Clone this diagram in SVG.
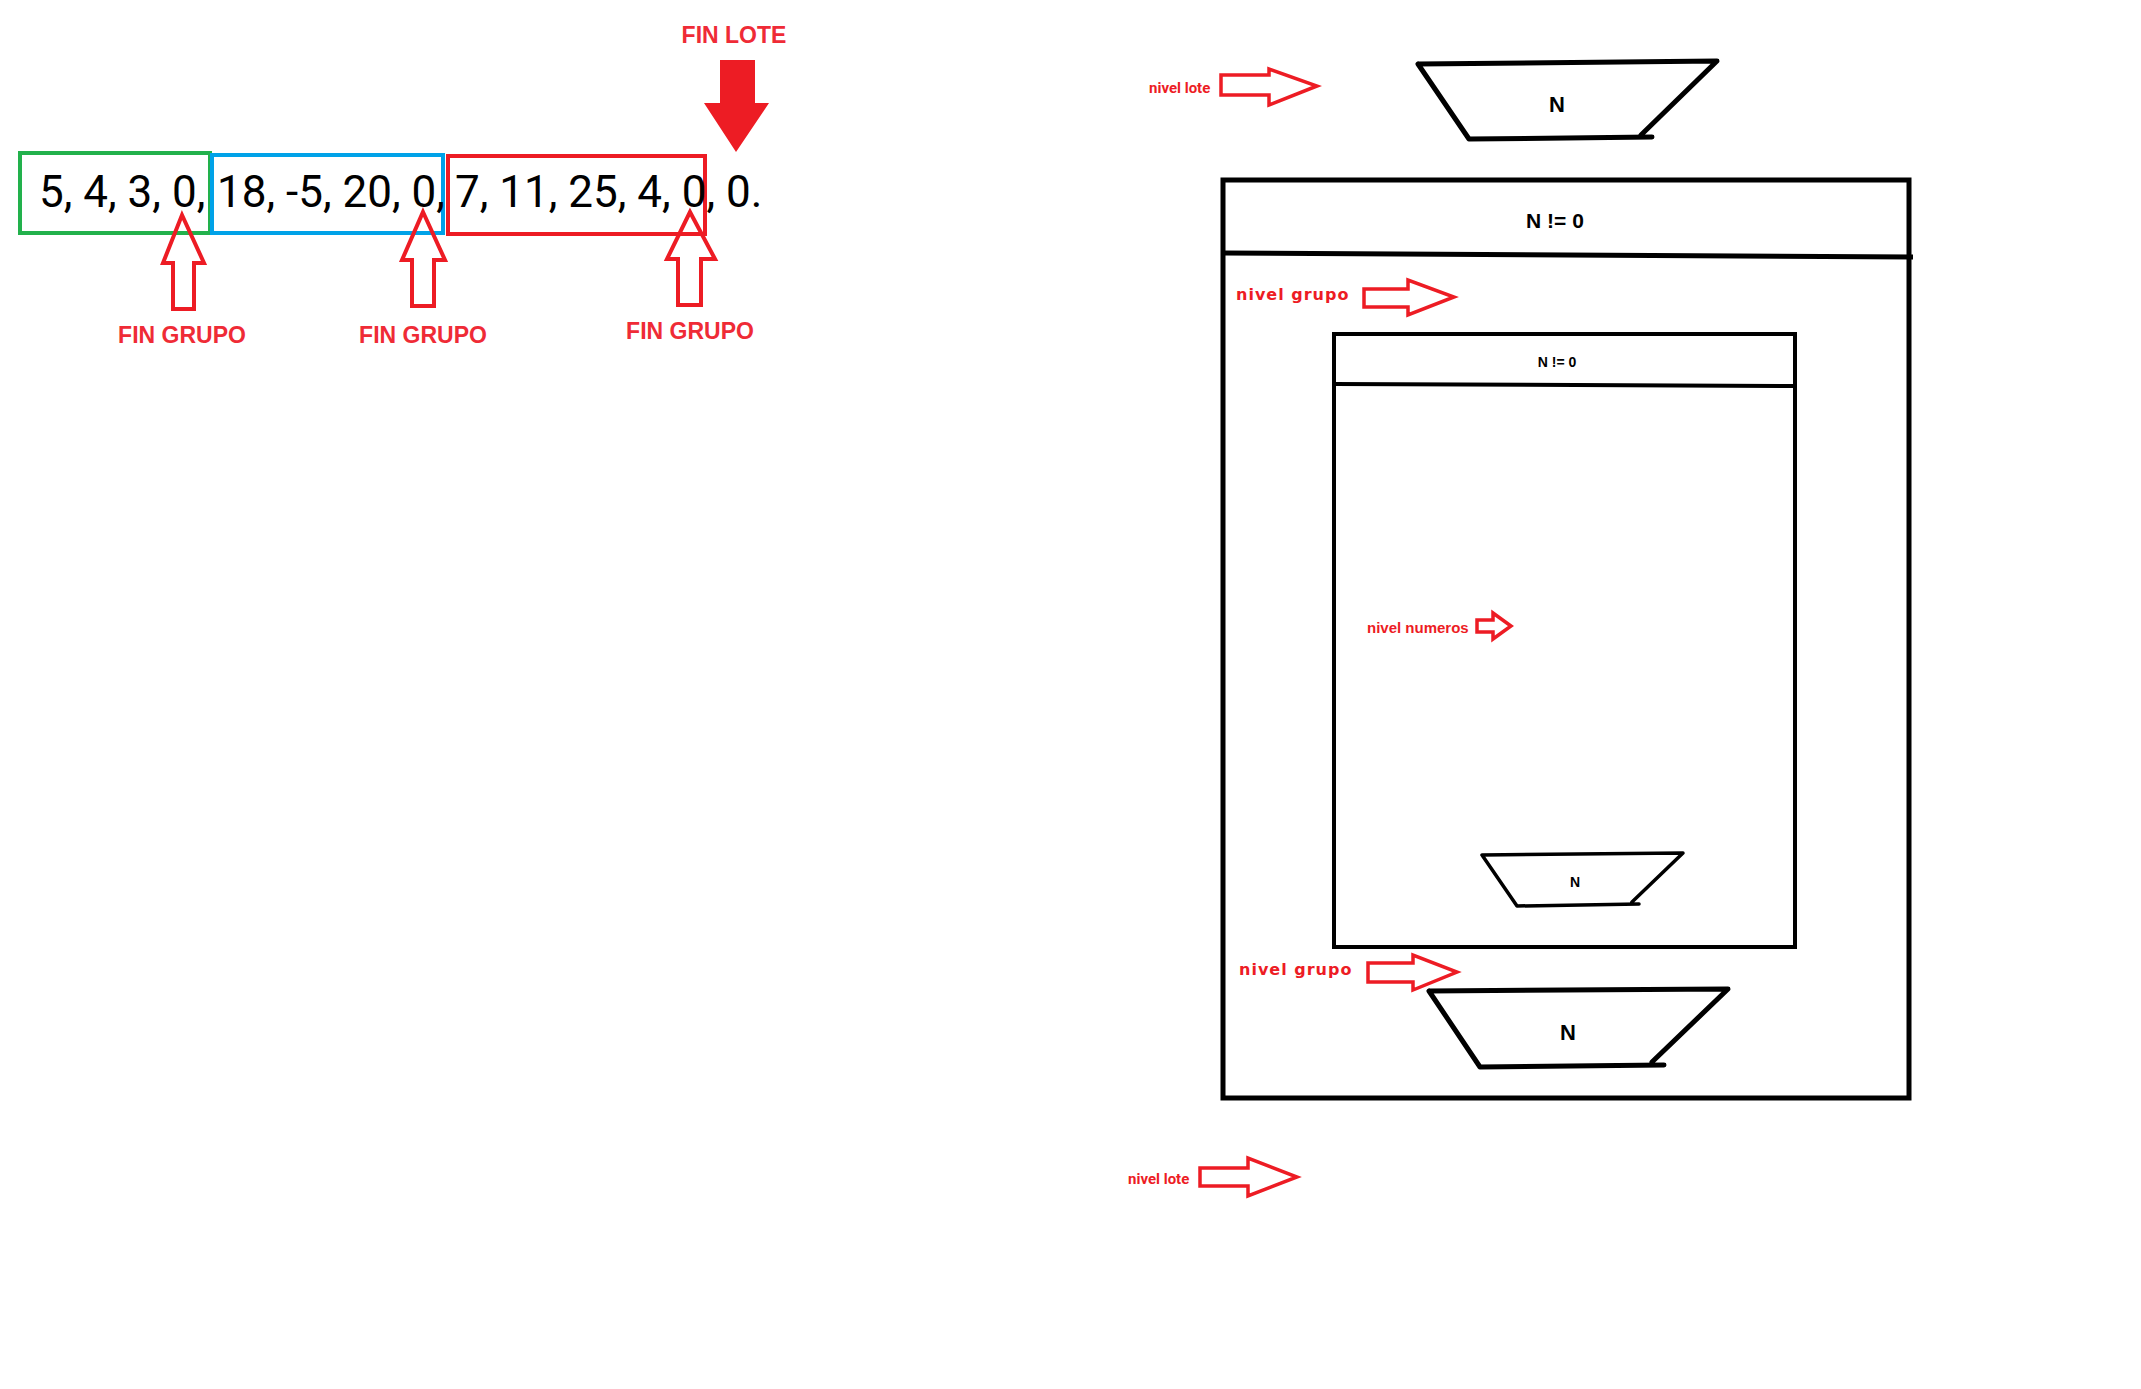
<svg xmlns="http://www.w3.org/2000/svg" width="2141" height="1389" viewBox="0 0 2141 1389">
<style>
.bg{fill:#ffffff}
.seq{font-family:Roboto,"Liberation Sans",sans-serif;font-size:44px;fill:#000}
.lbl{font-family:"Liberation Sans",Arial,sans-serif;font-weight:bold;font-size:23px;fill:#ef2b36;text-anchor:middle}
.niv{font-family:Roboto,"Liberation Sans",sans-serif;font-weight:bold;font-size:15px;fill:#ed1c24}
.nivn{font-family:"Liberation Sans",Arial,sans-serif;font-weight:bold;font-size:15px;fill:#ed1c24}
.nivg{font-family:"DejaVu Sans",Verdana,sans-serif;font-weight:bold;font-size:16px;letter-spacing:1px;fill:#ed1c24}
.blk{fill:none;stroke:#000;stroke-linecap:round;stroke-linejoin:round}
.t{font-family:"Liberation Sans",Arial,sans-serif;font-weight:bold;fill:#000;text-anchor:middle}
.oarr{fill:none;stroke:#ed1c24;stroke-linejoin:miter}
</style>
<rect class="bg" x="0" y="0" width="2141" height="1389"/>

<g id="sequence">
  <rect x="20" y="153" width="190" height="80" fill="none" stroke="#22b14c" stroke-width="4"/>
  <rect x="212" y="155" width="231" height="78" fill="none" stroke="#00a2e8" stroke-width="4"/>
  <rect x="448" y="156" width="257" height="78" fill="none" stroke="#ed1c24" stroke-width="4"/>
  <text class="seq" y="207"><tspan x="39">5, 4, 3, 0,</tspan><tspan x="217">18, -5, 20, 0,</tspan><tspan x="455">7, 11, 25, 4, 0, 0.</tspan></text>
</g>

<g id="fin-lote">
  <text class="lbl" x="734" y="43">FIN LOTE</text>
  <polygon points="720,60 755,60 755,103 769,103 736,152 704,103 720,103" fill="#ed1c24"/>
</g>
<g id="fin-grupo-1">
  <polygon class="oarr" stroke-width="4" points="182,215 204,263 194,263 194,309 173,309 173,263 163,263"/>
  <text class="lbl" x="182" y="343">FIN GRUPO</text>
</g>
<g id="fin-grupo-2">
  <polygon class="oarr" stroke-width="4" points="423,212 445,260 434,260 434,306 412,306 412,260 402,260"/>
  <text class="lbl" x="423" y="343">FIN GRUPO</text>
</g>
<g id="fin-grupo-3">
  <polygon class="oarr" stroke-width="4" points="690,212 715,259 701,259 701,305 678,305 678,259 667,259"/>
  <text class="lbl" x="690" y="339">FIN GRUPO</text>
</g>

<g id="read-lote">
  <path class="blk" stroke-width="5" d="M1418,64 L1717,61 L1641,135 M1418,64 L1469,139 L1652,137"/>
  <text class="t" x="1557" y="112" font-size="22">N</text>
</g>

<g id="loop-lote">
  <rect x="1223" y="180" width="686" height="918" fill="none" stroke="#000" stroke-width="5"/>
  <line x1="1223" y1="253" x2="1913" y2="257" stroke="#000" stroke-width="5"/>
  <text class="t" x="1555" y="228" font-size="21">N != 0</text>
</g>

<g id="loop-grupo">
  <rect x="1334" y="334" width="461" height="613" fill="none" stroke="#000" stroke-width="4"/>
  <line x1="1334" y1="384" x2="1797" y2="386" stroke="#000" stroke-width="4"/>
  <text class="t" x="1557" y="367" font-size="14">N != 0</text>
</g>

<g id="read-numero">
  <path class="blk" stroke-width="3.5" d="M1482,855 L1683,853 L1632,902 M1482,855 L1517,906 L1639,904"/>
  <text class="t" x="1575" y="887" font-size="14">N</text>
</g>

<g id="read-grupo">
  <path class="blk" stroke-width="5" d="M1429,991 L1728,989 L1652,1062 M1429,991 L1480,1067 L1664,1065"/>
  <text class="t" x="1568" y="1040" font-size="22">N</text>
</g>

<g id="labels">
  <text class="niv" x="1149" y="93">nivel lote</text>
  <text class="nivg" x="1236" y="300">nivel grupo</text>
  <text class="nivn" x="1367" y="633">nivel numeros</text>
  <text class="nivg" x="1239" y="975">nivel grupo</text>
  <text class="niv" x="1128" y="1184">nivel lote</text>
</g>

<g id="connectors">
  <polygon class="oarr" stroke-width="3.5" points="1221,75 1269,75 1269,69 1317,86 1269,105 1269,95 1221,95"/>
  <polygon class="oarr" stroke-width="3.5" points="1364,289 1408,289 1408,280 1454,297 1408,315 1408,307 1364,307"/>
  <polygon class="oarr" stroke-width="3.5" points="1477,620 1493,620 1493,613 1511,626 1493,639 1493,632 1477,632"/>
  <polygon class="oarr" stroke-width="3.5" points="1368,963 1413,963 1413,955 1457,972 1413,990 1413,982 1368,982"/>
  <polygon class="oarr" stroke-width="3.5" points="1200,1168 1248,1168 1248,1158 1297,1177 1248,1196 1248,1186 1200,1186"/>
</g>
</svg>
